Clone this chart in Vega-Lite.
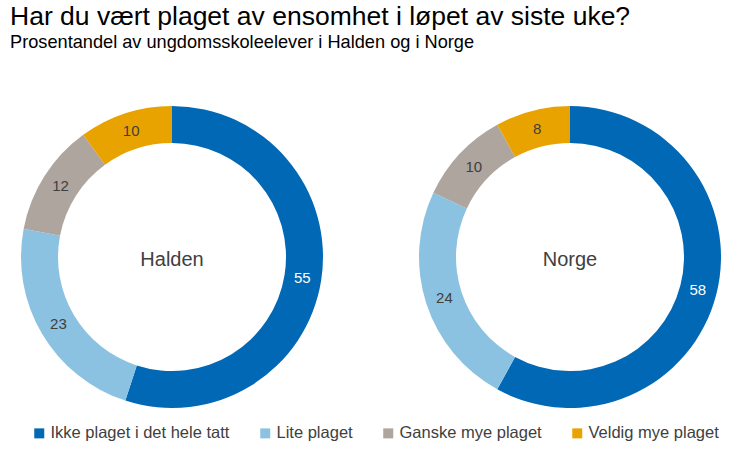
{
  "$schema": "https://vega.github.io/schema/vega-lite/v6.json",
  "padding": {"top": 4, "left": 10, "right": 10, "bottom": 5},
  "background": "white",
  "config": {"font": "Liberation Sans", "view": {"stroke": null}},
  "title": {
    "text": "Har du vært plaget av ensomhet i løpet av siste uke?",
    "subtitle": "Prosentandel av ungdomsskoleelever i Halden og i Norge",
    "anchor": "start",
    "frame": "bounds",
    "fontSize": 26.5,
    "fontWeight": "normal",
    "color": "#000000",
    "subtitleFontSize": 18.2,
    "subtitleColor": "#000000",
    "subtitlePadding": 3,
    "offset": 51
  },
  "data": {
    "values": [
      {"region": "Halden", "category": "Ikke plaget i det hele tatt", "value": 55, "rank": 1},
      {"region": "Halden", "category": "Lite plaget", "value": 23, "rank": 2},
      {"region": "Halden", "category": "Ganske mye plaget", "value": 12, "rank": 3},
      {"region": "Halden", "category": "Veldig mye plaget", "value": 10, "rank": 4},
      {"region": "Norge", "category": "Ikke plaget i det hele tatt", "value": 58, "rank": 1},
      {"region": "Norge", "category": "Lite plaget", "value": 24, "rank": 2},
      {"region": "Norge", "category": "Ganske mye plaget", "value": 10, "rank": 3},
      {"region": "Norge", "category": "Veldig mye plaget", "value": 8, "rank": 4}
    ]
  },
  "facet": {"column": {"field": "region", "type": "nominal", "header": {"title": null, "labels": false}}},
  "spacing": 74,
  "spec": {
    "width": 324,
    "height": 310,
    "layer": [
      {
        "mark": {"type": "arc", "radius": 151, "radius2": 114},
        "encoding": {
          "theta": {"field": "value", "type": "quantitative", "stack": true},
          "order": {"field": "rank", "type": "quantitative"},
          "color": {
            "field": "category",
            "type": "nominal",
            "sort": ["Ikke plaget i det hele tatt", "Lite plaget", "Ganske mye plaget", "Veldig mye plaget"],
            "scale": {
              "domain": ["Ikke plaget i det hele tatt", "Lite plaget", "Ganske mye plaget", "Veldig mye plaget"],
              "range": ["#0068B4", "#8CC2E1", "#ADA59E", "#E9A300"]
            },
            "legend": {
              "title": null,
              "orient": "none",
              "legendX": 21,
              "legendY": 323,
              "direction": "horizontal",
              "symbolType": "square",
              "symbolSize": 100,
              "symbolStrokeWidth": 0,
              "labelFontSize": 16.5,
              "labelColor": "#404040",
              "labelOffset": 3,
              "columnPadding": 27,
              "labelLimit": 300
            }
          }
        }
      },
      {
        "mark": {"type": "text", "radius": 132, "fontSize": 15},
        "encoding": {
          "theta": {"field": "value", "type": "quantitative", "stack": true},
          "order": {"field": "rank", "type": "quantitative"},
          "detail": {"field": "category"},
          "text": {"field": "value", "type": "quantitative"},
          "color": {
            "condition": {"test": "datum.rank === 1", "value": "#FFFFFF"},
            "value": "#404040"
          }
        }
      },
      {
        "mark": {"type": "text", "fontSize": 20, "color": "#404040", "dy": 3},
        "encoding": {
          "text": {"field": "region", "type": "nominal"}
        },
        "transform": [{"filter": "datum.rank === 1"}]
      }
    ]
  }
}
